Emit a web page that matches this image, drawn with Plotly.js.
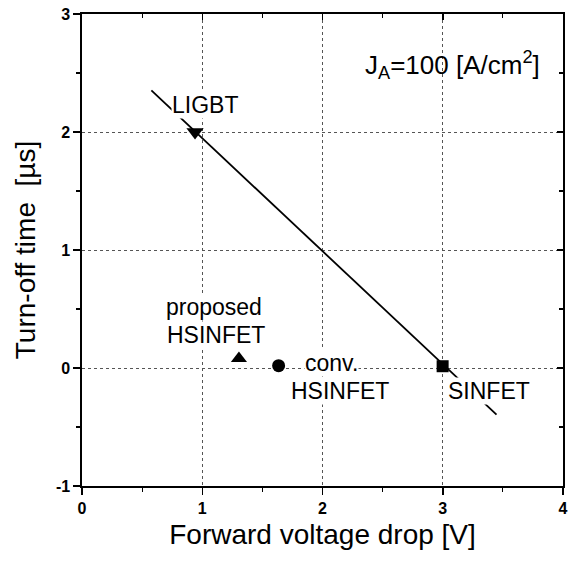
<!DOCTYPE html>
<html>
<head>
<meta charset="utf-8">
<script src="https://cdn.plot.ly/plotly-3.0.1.min.js"></script>
<style>html,body{margin:0;padding:0;background:#fff;}#chart{width:574px;height:562px;}</style>
</head>
<body>
<div id="chart"></div>
<script>
// ---- data ----
const fitLineX = [0.577, 3.447];
const fitLineY = [2.353, -0.395];
const ligbtX = [0.94];      const ligbtY = [2.0];
const proposedX = [1.305];  const proposedY = [0.08];
const convX = [1.635];      const convY = [0.02];
const sinfetX = [2.999];    const sinfetY = [0.015];
const xTickVals = [0, 1, 2, 3, 4];
const xTickText = ["0", "1", "2", "3", "4"];
const yTickVals = [-1, 0, 1, 2, 3];
const yTickText = ["-1", "0", "1", "2", "3"];

const FONT = "Liberation Sans, Arial, Helvetica, sans-serif";

const traces = [
  {x: fitLineX, y: fitLineY, mode: "lines", line: {color: "#000", width: 1.8}, hoverinfo: "skip"},
  {x: ligbtX, y: ligbtY, mode: "markers", marker: {symbol: "triangle-down", size: 15, color: "#000"}},
  {x: proposedX, y: proposedY, mode: "markers", marker: {symbol: "triangle-up", size: 14, color: "#000"}},
  {x: convX, y: convY, mode: "markers", marker: {symbol: "circle", size: 13, color: "#000"}},
  {x: sinfetX, y: sinfetY, mode: "markers", marker: {symbol: "square", size: 12, color: "#000"}},
  // carrier for mirrored (inward) ticks on top/right
  {x: fitLineX, y: fitLineY, xaxis: "x2", yaxis: "y2", mode: "lines", line: {width: 0, color: "rgba(0,0,0,0)"}, hoverinfo: "skip"}
];

const annFont = {family: FONT, size: 23, color: "#000"};
function lab(text, x, y, size) {
  return {text: text, x: x, y: y, xref: "x", yref: "y", showarrow: false,
    font: Object.assign({}, annFont, size ? {size: size} : {}),
    bgcolor: "#fff", borderpad: 0, xanchor: "center", yanchor: "middle"};
}

const layout = {
  width: 574, height: 562,
  margin: {l: 82, r: 11, t: 14, b: 76},
  paper_bgcolor: "#fff", plot_bgcolor: "#fff",
  showlegend: false,
  font: {family: FONT, color: "#000"},
  xaxis: {
    range: [0, 4], tickmode: "array", tickvals: xTickVals, ticktext: xTickText,
    ticks: "outside", ticklen: 7, tickwidth: 1.5, tickcolor: "#000",
    minor: {dtick: 0.5, tick0: 0, ticks: "outside", ticklen: 4, tickwidth: 1.2, tickcolor: "#000", showgrid: false},
    showline: true, linecolor: "#000", linewidth: 1.6, mirror: true,
    showgrid: true, gridcolor: "#555", griddash: "dot", gridwidth: 1,
    zeroline: false,
    tickfont: {family: FONT, size: 16, weight: "bold"},
    title: {text: "Forward voltage drop [V]", font: {family: FONT, size: 28}, standoff: 8}
  },
  yaxis: {
    range: [-1, 3], tickmode: "array", tickvals: yTickVals, ticktext: yTickText,
    ticks: "outside", ticklen: 7, tickwidth: 1.5, tickcolor: "#000",
    minor: {dtick: 0.5, tick0: 0, ticks: "outside", ticklen: 4, tickwidth: 1.2, tickcolor: "#000", showgrid: false},
    showline: true, linecolor: "#000", linewidth: 1.6, mirror: true,
    showgrid: true, gridcolor: "#555", griddash: "dot", gridwidth: 1,
    zeroline: false,
    tickfont: {family: FONT, size: 16, weight: "bold"},
    title: {text: "Turn-off time\u00a0\u00a0[µs]", font: {family: FONT, size: 28}, standoff: 12}
  },
  xaxis2: {
    overlaying: "x", side: "top", range: [0, 4], showticklabels: false,
    tickmode: "array", tickvals: xTickVals, ticks: "inside", ticklen: 6, tickwidth: 1.5, tickcolor: "#000",
    minor: {dtick: 0.5, tick0: 0, ticks: "inside", ticklen: 4, tickwidth: 1.2, tickcolor: "#000"},
    showgrid: false, zeroline: false, showline: false
  },
  yaxis2: {
    overlaying: "y", side: "right", range: [-1, 3], showticklabels: false,
    tickmode: "array", tickvals: yTickVals, ticks: "inside", ticklen: 6, tickwidth: 1.5, tickcolor: "#000",
    minor: {dtick: 0.5, tick0: 0, ticks: "inside", ticklen: 4, tickwidth: 1.2, tickcolor: "#000"},
    showgrid: false, zeroline: false, showline: false
  },
  annotations: [
    lab("LIGBT", 1.023, 2.229),
    lab("proposed", 1.098, 0.517),
    lab("HSINFET", 1.114, 0.28),
    lab("conv.", 2.076, 0.042),
    lab("HSINFET", 2.143, -0.199),
    lab("SINFET", 3.385, -0.193),
    Object.assign(lab("J<sub>A</sub>=100 [A/cm<sup>2</sup>]", 3.077, 2.568, 26), {bgcolor: "rgba(0,0,0,0)"})
  ]
};

Plotly.newPlot("chart", traces, layout, {displayModeBar: false, staticPlot: true});
</script>
</body>
</html>
